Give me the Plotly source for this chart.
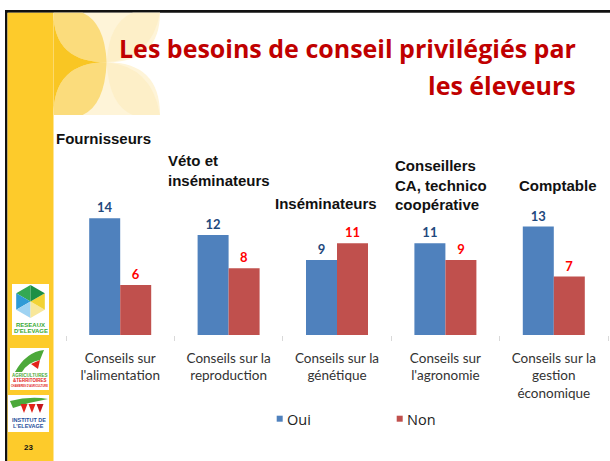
import math
import plotly.graph_objects as go

# ---- data -------------------------------------------------------------
categories = [
    "Conseils sur<br>l'alimentation",
    "Conseils sur la<br>reproduction",
    "Conseils sur la<br>génétique",
    "Conseils sur<br>l'agronomie",
    "Conseils sur la<br>gestion<br>économique",
]
oui = [14, 12, 9, 11, 13]
non = [6, 8, 11, 9, 7]
advisors = [
    "Fournisseurs",
    "Véto et<br>inséminateurs",
    "Inséminateurs",
    "Conseillers<br>CA, technico<br>coopérative",
    "Comptable",
]
series_names = ["Oui", "Non"]
page_number = "23"

# ---- page geometry (pixels) ------------------------------------------
W, H = 610, 461


def fx(x):
    return x / W


def fy(y):
    return 1 - y / H


def path(*cmds):
    out = []
    for c in cmds:
        op, pts = c[0], c[1:]
        out.append(op + " " + " ".join(f"{fx(x):.5f},{fy(y):.5f}" for x, y in pts))
    return " ".join(out) + " Z"


def rect(x0, y0, x1, y1, color):
    return dict(type="rect", xref="paper", yref="paper",
                x0=fx(x0), x1=fx(x1), y0=fy(y1), y1=fy(y0),
                fillcolor=color, line=dict(width=0), layer="below")


def shape_path(d, color):
    return dict(type="path", xref="paper", yref="paper", path=d,
                fillcolor=color, line=dict(width=0), layer="below")


BLUE, RED = "#4F81BD", "#C0504D"
ymax = 16
plot_bottom, plot_left, plot_right = 335.0, 66.0, 608.0
px_per_unit = 8.34
plot_top = plot_bottom - ymax * px_per_unit

fig = go.Figure()
fig.add_trace(go.Bar(
    x=categories, y=oui, name=series_names[0], marker_color=BLUE,
    text=[str(v) for v in oui], textposition="outside", cliponaxis=False,
    textfont=dict(family="Lato", size=13, color="#1F497D", weight="bold"),
))
fig.add_trace(go.Bar(
    x=categories, y=non, name=series_names[1], marker_color=RED,
    text=[str(v) for v in non], textposition="outside", cliponaxis=False,
    textfont=dict(family="Lato", size=13, color="#FF0000", weight="bold"),
))

shapes = []
# slide frame and yellow side strip
shapes.append(rect(5, 10, W, 12.7, "#111111"))
shapes.append(rect(5, 10, 7.5, H, "#111111"))
shapes.append(rect(7.5, 12.7, 53.5, H, "#FDCB2B"))

# petal motif in the top-left corner
bx0, by0, bx1, by1 = 53.5, 12.7, 160, 115
cx, cy = 106.7, 62.3
shapes.append(rect(bx0, by0, bx1, by1, "#FEF4D8"))
shapes.append(shape_path(path(("M", (bx1, by0)), ("Q", (bx1, cy), (cx, cy)),
                              ("Q", (bx1, cy), (bx1, by1))), "#FFFFFF"))
shapes.append(shape_path(path(("M", (bx0, by0)), ("Q", (bx0, cy), (cx, cy)),
                              ("Q", (cx - 2, by0 + 10), (cx - 24, by0))), "#FBDC7C"))
shapes.append(shape_path(path(("M", (bx0, by1)), ("Q", (bx0, cy), (cx, cy)),
                              ("Q", (cx - 2, by1 - 10), (cx - 24, by1))), "#FBDC7C"))
shapes.append(shape_path(path(("M", (bx0, by0)), ("Q", (bx0, cy), (cx, cy)),
                              ("Q", (bx0, cy), (bx0, by1))), "#F9C623"))
shapes.append(shape_path(path(("M", (cx, cy)), ("Q", (cx + 2, by0 + 10), (cx + 26, by0)),
                              ("L", (bx1, by0)), ("Q", (bx1 - 8, cy - 4), (cx, cy))), "#FDEFC8"))
shapes.append(shape_path(path(("M", (cx, cy)), ("Q", (cx + 2, by1 - 10), (cx + 26, by1)),
                              ("L", (bx1, by1)), ("Q", (bx1 - 8, cy + 4), (cx, cy))), "#FDEFC8"))

# logo 1 : hexagonal flower
shapes.append(rect(12, 284, 49, 335, "#FFFFFF"))
hx, hy, r = 30.5, 301.5, 16.5
verts = [(hx + r * math.cos(math.radians(a)), hy - r * math.sin(math.radians(a)))
         for a in (90, 150, 210, 270, 330, 30)]
tri_colors = ["#34A853", "#2F9BD6", "#9FD3F2", "#F8E79A", "#F2D335", "#1D8F45"]
for i, col in enumerate(tri_colors):
    a, b = verts[i], verts[(i + 1) % 6]
    shapes.append(shape_path(path(("M", (hx, hy)), ("L", a), ("L", b)), col))

# logo 2
shapes.append(rect(10, 348, 49, 390, "#FFFFFF"))
shapes.append(shape_path(path(("M", (15, 372)), ("Q", (26, 352), (44, 350)),
                              ("L", (40, 360)), ("Q", (28, 362), (22, 372))), "#4CA93A"))
shapes.append(shape_path(path(("M", (31, 364)), ("L", (40, 360)), ("L", (38, 369))), "#E2231A"))

# logo 3
shapes.append(rect(8, 395, 49, 432, "#FFFFFF"))
shapes.append(shape_path(path(("M", (10, 401)), ("Q", (30, 396), (48, 399)),
                              ("Q", (30, 402), (13, 408))), "#4CA93A"))
for tx, col in ((24, "#E2231A"), (32, "#E2231A"), (40, "#C4161C")):
    shapes.append(shape_path(path(("M", (tx - 3.5, 404)), ("L", (tx + 3.5, 404)),
                                  ("L", (tx, 413))), col))

# legend squares
shapes.append(rect(276.7, 415.7, 282.7, 421.7, BLUE))
shapes.append(rect(396.7, 415.7, 402.7, 421.7, RED))

annotations = []


def label(text, x, y, size, color, family, bold=True, xanchor="left", align="left"):
    annotations.append(dict(
        text=text, x=fx(x), y=fy(y), xref="paper", yref="paper",
        xanchor=xanchor, yanchor="middle", align=align, showarrow=False,
        font=dict(family=family, size=size, color=color,
                  weight="bold" if bold else "normal"),
    ))


# title
label("Les besoins de conseil privilégiés par", 578, 48.3, 25, "#C00000",
      "Open Sans", xanchor="right", align="right")
label("les éleveurs", 578, 85.3, 25, "#C00000", "Open Sans",
      xanchor="right", align="right")

# advisor headings above each group
adv_pos = [(54, 138), (166, 170), (273, 203.5), (393, 185), (517, 185.5)]
for txt, (x, y) in zip(advisors, adv_pos):
    label(txt, x, y, 15, "#111111", "Liberation Sans")

# legend text
label(series_names[0], 285.2, 419.0, 14.5, "#222222", "Open Sans", bold=False)
label(series_names[1], 405.2, 419.0, 14.5, "#222222", "Open Sans", bold=False)

# logo texts and slide number
label("RESEAUX", 30.5, 325, 6, "#3AAA35", "Liberation Sans", xanchor="center", align="center")
label("D'ELEVAGE", 30.5, 331, 6, "#3AAA35", "Liberation Sans", xanchor="center", align="center")
label("AGRICULTURES", 29.5, 375, 4.5, "#4CA93A", "Liberation Sans", xanchor="center", align="center")
label("&TERRITOIRES", 29.5, 380.5, 4.5, "#E2231A", "Liberation Sans", xanchor="center", align="center")
label("CHAMBRES D'AGRICULTURE", 29.5, 386, 2.6, "#E2231A", "Liberation Sans", xanchor="center", align="center")
label("INSTITUT DE", 28.5, 419.5, 5.5, "#1F4E9B", "Liberation Sans", xanchor="center", align="center")
label("L'ELEVAGE", 28.5, 425.5, 5.5, "#1F4E9B", "Liberation Sans", xanchor="center", align="center")
label(page_number, 28, 447, 8, "#111111", "Liberation Sans", xanchor="center", align="center")

fig.update_layout(
    template="none",
    width=W, height=H,
    margin=dict(l=0, r=0, t=0, b=0),
    paper_bgcolor="#FFFFFF", plot_bgcolor="rgba(0,0,0,0)",
    barmode="group", bargap=0.428, bargroupgap=0,
    showlegend=False,
    shapes=shapes, annotations=annotations,
    xaxis=dict(
        domain=[fx(plot_left), fx(plot_right)], automargin=False,
        showline=False, showgrid=False, zeroline=False,
        ticks="outside", tickson="boundaries", ticklen=5, tickwidth=1,
        tickcolor="#D9D9D9",
        tickfont=dict(family="Lato", size=13.5, color="#333333"),
        ticklabelstandoff=13,
    ),
    yaxis=dict(
        domain=[fy(plot_bottom), fy(plot_top)], range=[0, ymax], automargin=False,
        visible=False,
    ),
)

fig.write_html("out.html")
